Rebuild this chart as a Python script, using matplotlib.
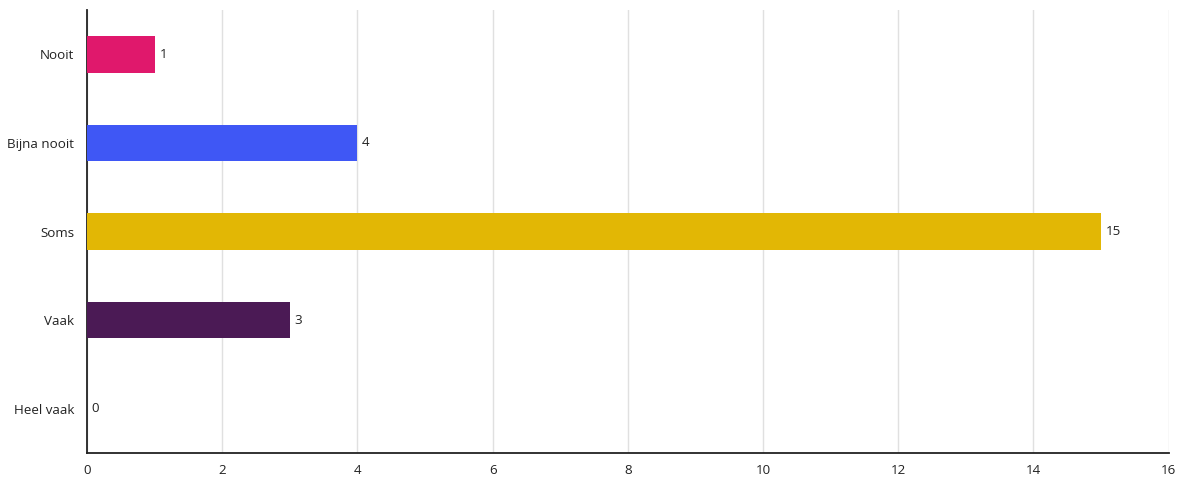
import matplotlib.pyplot as plt

categories = ["Nooit", "Bijna nooit", "Soms", "Vaak", "Heel vaak"]
counts = [1, 4, 15, 3, 0]
colors = ["#E0186C", "#3F57F5", "#E2B705", "#4B1A55", "#999999"]
xticks = [0, 2, 4, 6, 8, 10, 12, 14, 16]

plt.rcParams['font.family'] = ['Open Sans', 'DejaVu Sans']
FS = 9.6

fig = plt.figure(figsize=(11.82, 4.8), dpi=100)
ax = fig.add_axes([0.0736, 0.056, 0.915, 0.923])

ypos = range(len(categories))
bars = ax.barh(ypos, counts, height=0.41, color=colors, zorder=3)
for bar, val in zip(bars, counts):
    ax.text(bar.get_width() + 0.07, bar.get_y() + bar.get_height() / 2, str(val),
            va='center', ha='left', fontsize=FS, color='#222222')

ax.set_yticks(list(ypos))
ax.set_yticklabels(categories, fontsize=FS, color='#222222')
ax.set_ylim(len(categories) - 0.5, -0.5)
ax.set_xlim(0, 16)
ax.set_xticks(xticks)
ax.set_xticklabels([str(t) for t in xticks], fontsize=FS, color='#222222')
ax.tick_params(axis='y', length=0, pad=9)
ax.tick_params(axis='x', length=0, pad=8)

ax.grid(axis='x', color='#e0e0e0', linewidth=1, zorder=0)
for side in ['top', 'right']:
    ax.spines[side].set_visible(False)
for side in ['left', 'bottom']:
    ax.spines[side].set_color('#222222')
    ax.spines[side].set_linewidth(1.3)

fig.savefig("out.png", dpi=100)
